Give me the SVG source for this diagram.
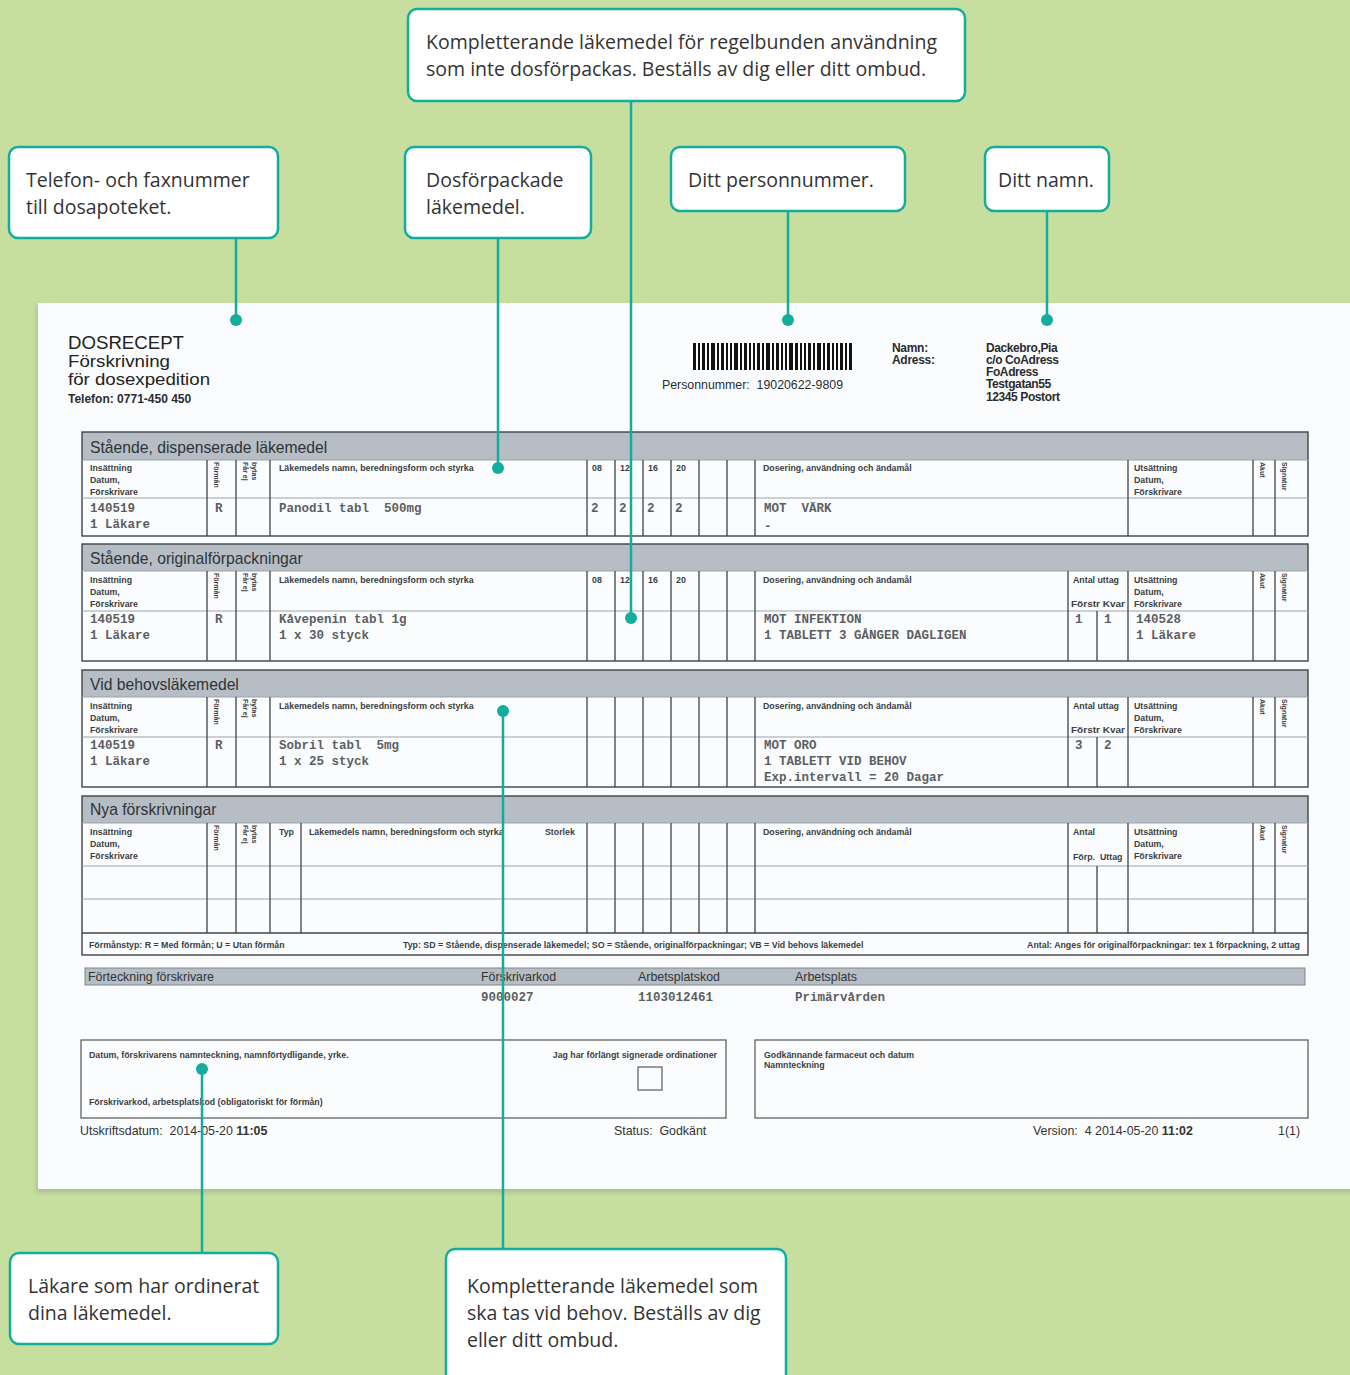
<svg xmlns="http://www.w3.org/2000/svg" width="1350" height="1375" viewBox="0 0 1350 1375">
<defs>
<style>
.bg{fill:#c6df9f}
.paper{fill:#fbfcfd}
.callout rect{fill:#ffffff;stroke:#12ad9d;stroke-width:2.5}
.ct{font-family:"Open Sans","Noto Sans",sans-serif;font-size:19.5px;fill:#333333}
.conn line{stroke:#12ad9d;stroke-width:2.5}
.conn circle{fill:#12ad9d}
.band{fill:#b6bdc5}
.frame{fill:none;stroke:#3e4448;stroke-width:1.4}
.vl{stroke:#3e4448;stroke-width:1.3}
.hl{stroke:#9aa6ae;stroke-width:1.2}
.title{font-family:"Liberation Sans",Arial,sans-serif;font-size:15.7px;fill:#2f3336}
.lab{font-family:"Liberation Sans",Arial,sans-serif;font-size:8.8px;font-weight:bold;fill:#3a3f44}
.rot{font-family:"Liberation Sans",Arial,sans-serif;font-size:7px;font-weight:bold;fill:#3a3f44}
.mono{font-family:"Liberation Mono","Courier New",monospace;font-size:12.5px;font-weight:bold;fill:#5a5f63}
.doc{font-family:"Liberation Sans",Arial,sans-serif;fill:#222}
.hd{font-family:"Liberation Sans",Arial,sans-serif;font-size:12px;font-weight:bold;fill:#2a2d30}
.pn{font-family:"Liberation Sans",Arial,sans-serif;font-size:12px;fill:#2a2d30}
.sm{font-family:"Liberation Sans",Arial,sans-serif;font-size:12.4px;fill:#333}
</style>
<filter id="sh" x="-5%" y="-5%" width="110%" height="110%">
<feGaussianBlur stdDeviation="2"/>
</filter>
</defs>
<rect class="bg" x="0" y="0" width="1350" height="1375"/>

<g id="document">
<rect x="36" y="305" width="1320" height="888" fill="#9aa58a" opacity="0.5" filter="url(#sh)"/>
<rect class="paper" x="38" y="303" width="1312" height="886"/>

<!-- header -->
<text class="doc" x="68" y="349" font-size="18.5" textLength="116" lengthAdjust="spacingAndGlyphs">DOSRECEPT</text>
<text class="doc" x="68" y="367" font-size="16" textLength="102" lengthAdjust="spacingAndGlyphs">Förskrivning</text>
<text class="doc" x="68" y="385" font-size="16" textLength="142" lengthAdjust="spacingAndGlyphs">för dosexpedition</text>
<text class="hd" x="68" y="403">Telefon: 0771-450 450</text>

<g fill="#111">
<rect x="693" y="343" width="3" height="27"/><rect x="698" y="343" width="2" height="27"/><rect x="702" y="343" width="3" height="27"/><rect x="707" y="343" width="2" height="27"/><rect x="711" y="343" width="4" height="27"/><rect x="717" y="343" width="2" height="27"/><rect x="721" y="343" width="3" height="27"/><rect x="726" y="343" width="2" height="27"/><rect x="730" y="343" width="2" height="27"/><rect x="734" y="343" width="4" height="27"/><rect x="740" y="343" width="2" height="27"/><rect x="744" y="343" width="3" height="27"/><rect x="749" y="343" width="2" height="27"/><rect x="753" y="343" width="2" height="27"/><rect x="757" y="343" width="3" height="27"/><rect x="762" y="343" width="2" height="27"/><rect x="766" y="343" width="4" height="27"/><rect x="772" y="343" width="2" height="27"/><rect x="776" y="343" width="3" height="27"/><rect x="781" y="343" width="2" height="27"/><rect x="785" y="343" width="2" height="27"/><rect x="789" y="343" width="4" height="27"/><rect x="795" y="343" width="3" height="27"/><rect x="800" y="343" width="2" height="27"/><rect x="804" y="343" width="2" height="27"/><rect x="808" y="343" width="3" height="27"/><rect x="813" y="343" width="2" height="27"/><rect x="817" y="343" width="4" height="27"/><rect x="823" y="343" width="2" height="27"/><rect x="827" y="343" width="3" height="27"/><rect x="832" y="343" width="2" height="27"/><rect x="836" y="343" width="2" height="27"/><rect x="840" y="343" width="3" height="27"/><rect x="845" y="343" width="2" height="27"/><rect x="849" y="343" width="3" height="27"/>
</g>
<text class="pn" x="662" y="389" textLength="181" lengthAdjust="spacingAndGlyphs" xml:space="preserve">Personnummer:  19020622-9809</text>
<text class="hd" x="892" y="352" letter-spacing="-0.3">Namn:</text>
<text class="hd" x="892" y="364" letter-spacing="-0.3">Adress:</text>
<text class="hd" x="986" y="352" letter-spacing="-0.4">Dackebro,Pia</text>
<text class="hd" x="986" y="364" letter-spacing="-0.4">c/o CoAdress</text>
<text class="hd" x="986" y="376" letter-spacing="-0.4">FoAdress</text>
<text class="hd" x="986" y="388" letter-spacing="-0.4">Testgatan55</text>
<text class="hd" x="986" y="401" letter-spacing="-0.4">12345 Postort</text>

<!-- Section 1 -->
<rect class="band" x="82" y="432" width="1226" height="28"/>
<rect class="frame" x="82" y="432" width="1226" height="104"/>
<line class="hl" x1="82" y1="460" x2="1308" y2="460"/>
<line class="hl" x1="82" y1="498" x2="1308" y2="498"/>
<path class="vl" d="M207 460V536M236 460V536M270 460V536M587 460V536M615 460V536M643 460V536M671 460V536M699 460V536M727 460V536M755 460V536M1128 460V536M1253 460V536M1275 460V536"/>
<text class="title" x="90" y="453">Stående, dispenserade läkemedel</text>
<text class="lab" x="90" y="471">Insättning</text><text class="lab" x="90" y="483">Datum,</text><text class="lab" x="90" y="495">Förskrivare</text>
<text class="rot" transform="translate(214,462) rotate(90)">Förmån</text>
<text class="rot" transform="translate(243,462) rotate(90)">Får ej</text>
<text class="rot" transform="translate(252,462) rotate(90)">bytas</text>
<text class="lab" x="279" y="471">Läkemedels namn, beredningsform och styrka</text>
<text class="lab" x="592" y="471">08</text><text class="lab" x="620" y="471">12</text><text class="lab" x="648" y="471">16</text><text class="lab" x="676" y="471">20</text>
<text class="lab" x="763" y="471">Dosering, användning och ändamål</text>
<text class="lab" x="1134" y="471">Utsättning</text><text class="lab" x="1134" y="483">Datum,</text><text class="lab" x="1134" y="495">Förskrivare</text>
<text class="rot" transform="translate(1260,462) rotate(90)">Akut</text>
<text class="rot" transform="translate(1282,462) rotate(90)">Signatur</text>
<text class="mono" x="90" y="512">140519</text><text class="mono" x="90" y="528">1 Läkare</text>
<text class="mono" x="215" y="512">R</text>
<text class="mono" x="279" y="512" xml:space="preserve">Panodil tabl  500mg</text>
<text class="mono" x="591" y="512">2</text><text class="mono" x="619" y="512">2</text><text class="mono" x="647" y="512">2</text><text class="mono" x="675" y="512">2</text>
<text class="mono" x="764" y="512" xml:space="preserve">MOT  VÄRK</text>
<text class="mono" x="764" y="530">-</text>

<!-- Section 2 -->
<rect class="band" x="82" y="544" width="1226" height="27"/>
<rect class="frame" x="82" y="544" width="1226" height="117"/>
<line class="hl" x1="82" y1="571" x2="1308" y2="571"/>
<line class="hl" x1="82" y1="611" x2="1308" y2="611"/>
<path class="vl" d="M207 571V661M236 571V661M270 571V661M587 571V661M615 571V661M643 571V661M671 571V661M699 571V661M727 571V661M755 571V661M1068 571V661M1097 611V661M1128 571V661M1253 571V661M1275 571V661"/>
<text class="title" x="90" y="564">Stående, originalförpackningar</text>
<text class="lab" x="90" y="583">Insättning</text><text class="lab" x="90" y="595">Datum,</text><text class="lab" x="90" y="607">Förskrivare</text>
<text class="rot" transform="translate(214,573) rotate(90)">Förmån</text>
<text class="rot" transform="translate(243,573) rotate(90)">Får ej</text>
<text class="rot" transform="translate(252,573) rotate(90)">bytas</text>
<text class="lab" x="279" y="583">Läkemedels namn, beredningsform och styrka</text>
<text class="lab" x="592" y="583">08</text><text class="lab" x="620" y="583">12</text><text class="lab" x="648" y="583">16</text><text class="lab" x="676" y="583">20</text>
<text class="lab" x="763" y="583">Dosering, användning och ändamål</text>
<text class="lab" x="1073" y="583">Antal uttag</text><text class="lab" x="1071" y="607" textLength="54" lengthAdjust="spacingAndGlyphs">Förstr Kvar</text>
<text class="lab" x="1134" y="583">Utsättning</text><text class="lab" x="1134" y="595">Datum,</text><text class="lab" x="1134" y="607">Förskrivare</text>
<text class="rot" transform="translate(1260,573) rotate(90)">Akut</text>
<text class="rot" transform="translate(1282,573) rotate(90)">Signatur</text>
<text class="mono" x="90" y="623">140519</text><text class="mono" x="90" y="639">1 Läkare</text>
<text class="mono" x="215" y="623">R</text>
<text class="mono" x="279" y="623">Kåvepenin tabl 1g</text>
<text class="mono" x="279" y="639">1 x 30 styck</text>
<text class="mono" x="764" y="623">MOT INFEKTION</text>
<text class="mono" x="764" y="639">1 TABLETT 3 GÅNGER DAGLIGEN</text>
<text class="mono" x="1075" y="623">1</text><text class="mono" x="1104" y="623">1</text>
<text class="mono" x="1136" y="623">140528</text><text class="mono" x="1136" y="639">1 Läkare</text>

<!-- Section 3 -->
<rect class="band" x="82" y="670" width="1226" height="27"/>
<rect class="frame" x="82" y="670" width="1226" height="117"/>
<line class="hl" x1="82" y1="697" x2="1308" y2="697"/>
<line class="hl" x1="82" y1="737" x2="1308" y2="737"/>
<path class="vl" d="M207 697V787M236 697V787M270 697V787M587 697V787M615 697V787M643 697V787M671 697V787M699 697V787M727 697V787M755 697V787M1068 697V787M1097 737V787M1128 697V787M1253 697V787M1275 697V787"/>
<text class="title" x="90" y="690">Vid behovsläkemedel</text>
<text class="lab" x="90" y="709">Insättning</text><text class="lab" x="90" y="721">Datum,</text><text class="lab" x="90" y="733">Förskrivare</text>
<text class="rot" transform="translate(214,699) rotate(90)">Förmån</text>
<text class="rot" transform="translate(243,699) rotate(90)">Får ej</text>
<text class="rot" transform="translate(252,699) rotate(90)">bytas</text>
<text class="lab" x="279" y="709">Läkemedels namn, beredningsform och styrka</text>
<text class="lab" x="763" y="709">Dosering, användning och ändamål</text>
<text class="lab" x="1073" y="709">Antal uttag</text><text class="lab" x="1071" y="733" textLength="54" lengthAdjust="spacingAndGlyphs">Förstr Kvar</text>
<text class="lab" x="1134" y="709">Utsättning</text><text class="lab" x="1134" y="721">Datum,</text><text class="lab" x="1134" y="733">Förskrivare</text>
<text class="rot" transform="translate(1260,699) rotate(90)">Akut</text>
<text class="rot" transform="translate(1282,699) rotate(90)">Signatur</text>
<text class="mono" x="90" y="749">140519</text><text class="mono" x="90" y="765">1 Läkare</text>
<text class="mono" x="215" y="749">R</text>
<text class="mono" x="279" y="749" xml:space="preserve">Sobril tabl  5mg</text>
<text class="mono" x="279" y="765">1 x 25 styck</text>
<text class="mono" x="764" y="749">MOT ORO</text>
<text class="mono" x="764" y="765">1 TABLETT VID BEHOV</text>
<text class="mono" x="764" y="781">Exp.intervall = 20 Dagar</text>
<text class="mono" x="1075" y="749">3</text><text class="mono" x="1104" y="749">2</text>

<!-- Section 4 -->
<rect class="band" x="82" y="796" width="1226" height="27"/>
<rect class="frame" x="82" y="796" width="1226" height="159"/>
<line class="hl" x1="82" y1="823" x2="1308" y2="823"/>
<line class="hl" x1="82" y1="866" x2="1308" y2="866"/>
<line class="hl" x1="82" y1="899" x2="1308" y2="899"/>
<line class="vl" x1="82" y1="933" x2="1308" y2="933"/>
<path class="vl" d="M207 823V933M236 823V933M270 823V933M301 823V933M587 823V933M615 823V933M643 823V933M671 823V933M699 823V933M727 823V933M755 823V933M1068 823V933M1097 866V933M1128 823V933M1253 823V933M1275 823V933"/>
<text class="title" x="90" y="815">Nya förskrivningar</text>
<text class="lab" x="90" y="835">Insättning</text><text class="lab" x="90" y="847">Datum,</text><text class="lab" x="90" y="859">Förskrivare</text>
<text class="rot" transform="translate(214,825) rotate(90)">Förmån</text>
<text class="rot" transform="translate(243,825) rotate(90)">Får ej</text>
<text class="rot" transform="translate(252,825) rotate(90)">bytas</text>
<text class="lab" x="279" y="835">Typ</text>
<text class="lab" x="309" y="835">Läkemedels namn, beredningsform och styrka</text>
<text class="lab" x="545" y="835">Storlek</text>
<text class="lab" x="763" y="835">Dosering, användning och ändamål</text>
<text class="lab" x="1073" y="835">Antal</text><text class="lab" x="1073" y="860">Förp.</text><text class="lab" x="1100" y="860">Uttag</text>
<text class="lab" x="1134" y="835">Utsättning</text><text class="lab" x="1134" y="847">Datum,</text><text class="lab" x="1134" y="859">Förskrivare</text>
<text class="rot" transform="translate(1260,825) rotate(90)">Akut</text>
<text class="rot" transform="translate(1282,825) rotate(90)">Signatur</text>
<text class="lab" x="89" y="948">Förmånstyp: R = Med förmån; U = Utan förmån</text>
<text class="lab" x="403" y="948">Typ: SD = Stående, dispenserade läkemedel; SO = Stående, originalförpackningar; VB = Vid behovs läkemedel</text>
<text class="lab" x="1300" y="948" text-anchor="end">Antal: Anges för originalförpackningar: tex 1 förpackning, 2 uttag</text>

<!-- Förskrivare -->
<rect class="band" x="85" y="968" width="1220" height="17"/>
<rect x="85" y="968" width="1220" height="17" fill="none" stroke="#7d878f" stroke-width="1"/>
<text class="sm" x="88" y="981">Förteckning förskrivare</text>
<text class="sm" x="481" y="981">Förskrivarkod</text>
<text class="sm" x="638" y="981">Arbetsplatskod</text>
<text class="sm" x="795" y="981">Arbetsplats</text>
<text class="mono" x="481" y="1001">9000027</text>
<text class="mono" x="638" y="1001">1103012461</text>
<text class="mono" x="795" y="1001">Primärvården</text>

<rect x="81" y="1040" width="645" height="78" fill="none" stroke="#555" stroke-width="1.2"/>
<text class="lab" x="89" y="1058">Datum, förskrivarens namnteckning, namnförtydligande, yrke.</text>
<text class="lab" x="717" y="1058" text-anchor="end">Jag har förlängt signerade ordinationer</text>
<rect x="638" y="1067" width="24" height="23" fill="none" stroke="#666" stroke-width="1.3"/>
<text class="lab" x="89" y="1105">Förskrivarkod, arbetsplatskod (obligatoriskt för förmån)</text>
<rect x="755" y="1040" width="553" height="78" fill="none" stroke="#555" stroke-width="1.2"/>
<text class="lab" x="764" y="1058">Godkännande farmaceut och datum</text>
<text class="lab" x="764" y="1068">Namnteckning</text>

<text class="sm" x="80" y="1135" xml:space="preserve">Utskriftsdatum:  2014-05-20 <tspan font-weight="bold">11:05</tspan></text>
<text class="sm" x="614" y="1135" xml:space="preserve">Status:  Godkänt</text>
<text class="sm" x="1033" y="1135" xml:space="preserve">Version:  4 2014-05-20 <tspan font-weight="bold">11:02</tspan></text>
<text class="sm" x="1278" y="1135">1(1)</text>
</g>

<g id="connectors" class="conn">
<line x1="236" y1="238" x2="236" y2="320"/><circle cx="236" cy="320" r="6"/>
<line x1="498" y1="238" x2="498" y2="468"/><circle cx="498" cy="468" r="6"/>
<line x1="631" y1="101" x2="631" y2="618"/><circle cx="631" cy="618" r="6"/>
<line x1="788" y1="211" x2="788" y2="320"/><circle cx="788" cy="320" r="6"/>
<line x1="1047" y1="211" x2="1047" y2="320"/><circle cx="1047" cy="320" r="6"/>
<line x1="202" y1="1253" x2="202" y2="1069"/><circle cx="202" cy="1069" r="6"/>
<line x1="503" y1="1249" x2="503" y2="711"/><circle cx="503" cy="711" r="6"/>
</g>

<g id="callout-regelbunden" class="callout">
<rect x="408" y="9" width="557" height="92" rx="9"/>
<text class="ct" x="426" y="49">Kompletterande läkemedel för regelbunden användning</text>
<text class="ct" x="426" y="76">som inte dosförpackas. Beställs av dig eller ditt ombud.</text>
</g>
<g id="callout-telefon" class="callout">
<rect x="9" y="147" width="269" height="91" rx="9"/>
<text class="ct" x="26" y="187">Telefon- och faxnummer</text>
<text class="ct" x="26" y="214">till dosapoteket.</text>
</g>
<g id="callout-dosforpackade" class="callout">
<rect x="405" y="147" width="186" height="91" rx="9"/>
<text class="ct" x="426" y="187">Dosförpackade</text>
<text class="ct" x="426" y="214">läkemedel.</text>
</g>
<g id="callout-personnummer" class="callout">
<rect x="671" y="147" width="234" height="64" rx="9"/>
<text class="ct" x="688" y="187">Ditt personnummer.</text>
</g>
<g id="callout-namn" class="callout">
<rect x="985" y="147" width="124" height="64" rx="9"/>
<text class="ct" x="998" y="187">Ditt namn.</text>
</g>
<g id="callout-lakare" class="callout">
<rect x="10" y="1253" width="268" height="91" rx="9"/>
<text class="ct" x="28" y="1293">Läkare som har ordinerat</text>
<text class="ct" x="28" y="1320">dina läkemedel.</text>
</g>
<g id="callout-vidbehov" class="callout">
<rect x="446" y="1249" width="340" height="140" rx="9"/>
<text class="ct" x="467" y="1293">Kompletterande läkemedel som</text>
<text class="ct" x="467" y="1320">ska tas vid behov. Beställs av dig</text>
<text class="ct" x="467" y="1347">eller ditt ombud.</text>
</g>
</svg>
